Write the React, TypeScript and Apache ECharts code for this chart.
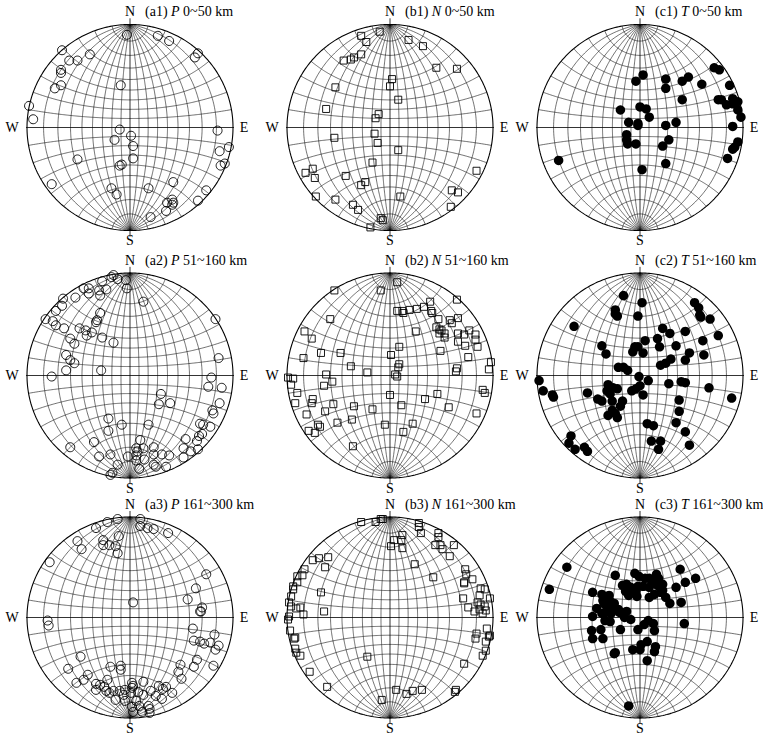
import React, { useEffect, useRef } from "react";
import * as echarts from "echarts";

// Projected positions on the Wulff net, in percent of the net radius (x east, y north)
const a1P = [[-3,90],[27,89],[38,84],[-66,75],[-39,71],[-59,65],[-51,65],[66,72],[63,68],[-67,56],[-67,53],[-73,38],[-67,41],[-9,41],[-98,21],[-94,8],[-10,-2],[85,-3],[1,-8],[-15,-12],[3,-18],[96,-19],[87,-23],[3,-30],[-51,-31],[-8,-36],[-10,-37],[92,-35],[88,-37],[-76,-55],[-18,-59],[-13,-65],[18,-59],[42,-53],[74,-61],[66,-71],[41,-70],[42,-73],[36,-73],[35,-81],[41,-75],[20,-87]];
const b1N = [[-10,93],[-28,89],[-23,83],[18,85],[32,79],[-28,71],[-35,68],[-38,66],[-45,65],[45,58],[65,57],[2,47],[0,40],[-53,39],[8,27],[-62,18],[-11,13],[-14,9],[-54,-10],[-15,-6],[-12,-15],[8,-22],[-17,-34],[84,-42],[-82,-44],[-75,-40],[-73,-49],[-43,-47],[-24,-53],[-28,-56],[-72,-67],[-53,-70],[10,-67],[60,-61],[66,-63],[59,-77],[-36,-75],[-31,-80],[-9,-88],[-7,-90],[-19,-97]];
const c1T = [[3,51],[-4,45],[25,47],[25,38],[41,45],[47,49],[60,42],[72,58],[77,56],[87,41],[41,27],[76,27],[79,27],[84,22],[90,28],[95,25],[90,23],[95,17],[98,10],[-19,17],[0,20],[6,18],[9,10],[-11,5],[-2,4],[-2,2],[35,5],[25,2],[90,1],[-13,-7],[-13,-12],[-12,-16],[-4,-16],[28,-12],[22,-18],[95,-14],[92,-19],[90,-21],[85,-30],[-79,-32],[25,-35],[2,-41]];
const a2P = [[-16,98],[-18,96],[-12,94],[-27,92],[-4,93],[-3,85],[-45,85],[-40,85],[-40,80],[-23,84],[-30,83],[-29,78],[-53,76],[-65,75],[-66,68],[-72,63],[13,72],[-29,61],[-82,55],[-75,53],[-72,49],[-64,46],[-32,54],[-33,52],[-49,46],[-43,44],[-37,42],[-42,39],[-27,37],[-16,32],[-58,36],[-54,31],[83,55],[-62,20],[-58,15],[-54,12],[-62,5],[-76,-1],[-28,5],[86,17],[79,-2],[76,-11],[89,-12],[30,-18],[28,-28],[39,-27],[87,-27],[80,-34],[81,-37],[-21,-42],[-8,-48],[18,-48],[-21,-54],[68,-47],[71,-48],[78,-50],[70,-57],[67,-59],[65,-64],[54,-62],[-35,-65],[10,-63],[6,-71],[13,-71],[23,-70],[-58,-70],[7,-74],[52,-71],[59,-74],[66,-72],[-2,-79],[6,-78],[23,-77],[31,-77],[38,-78],[-30,-79],[-19,-77],[6,-83],[14,-82],[52,-80],[23,-87],[35,-89],[-12,-87],[9,-91],[-17,-95],[-19,-97],[25,-89]];
const b2N = [[7,91],[-54,83],[-9,83],[65,74],[39,72],[7,63],[12,63],[13,61],[19,64],[26,65],[33,67],[40,63],[41,61],[47,55],[58,54],[60,51],[66,56],[45,47],[48,45],[50,44],[53,41],[48,41],[53,37],[66,41],[72,40],[77,44],[83,40],[83,35],[85,28],[73,29],[66,33],[49,24],[76,18],[-58,55],[-83,43],[-76,36],[25,43],[9,28],[1,20],[-67,22],[-48,22],[-84,17],[-38,9],[-22,3],[9,11],[8,8],[5,1],[7,-1],[-62,1],[-99,-2],[-94,-3],[-96,-9],[-56,-6],[-64,-10],[65,7],[64,4],[98,13],[96,6],[-90,-17],[0,-19],[46,-18],[34,-23],[90,-14],[92,-17],[-92,-27],[-75,-23],[-76,-27],[-55,-28],[-35,-30],[11,-29],[-81,-38],[-63,-35],[-17,-33],[57,-31],[84,-37],[-37,-43],[-51,-46],[-5,-48],[22,-47],[-70,-48],[-68,-50],[-79,-54],[-73,-56],[13,-55],[-36,-69]];
const c2T = [[-16,78],[2,71],[53,71],[57,66],[-24,64],[-24,60],[-22,58],[58,59],[59,57],[68,55],[-2,58],[-64,48],[22,46],[29,41],[44,43],[76,39],[17,36],[5,34],[61,34],[-37,29],[19,28],[35,29],[-5,28],[-2,28],[-7,23],[3,22],[-33,21],[48,22],[44,15],[62,20],[30,16],[25,12],[20,10],[-21,8],[-16,8],[-12,5],[-1,-1],[8,-5],[28,-8],[40,-6],[44,-7],[-98,-5],[-94,-15],[-85,-19],[-84,-21],[-31,-9],[-26,-12],[-22,-13],[-32,-15],[-29,-18],[0,-10],[-4,-13],[-8,-15],[3,-19],[67,-12],[-51,-17],[-41,-23],[-37,-25],[-27,-25],[-17,-25],[-19,-30],[38,-24],[89,-22],[38,-35],[-27,-34],[-24,-37],[-31,-39],[-22,-41],[35,-46],[7,-47],[13,-49],[44,-55],[-67,-59],[-69,-66],[-63,-72],[-54,-70],[-51,-74],[11,-64],[20,-64],[18,-72],[48,-68]];
const a3P = [[-12,98],[-22,95],[-33,89],[10,98],[10,91],[17,89],[23,88],[37,84],[-11,81],[-51,76],[-47,68],[-26,77],[-26,72],[-20,72],[-14,71],[-12,64],[-78,55],[74,43],[64,29],[56,18],[3,15],[70,10],[69,6],[68,6],[-80,-3],[-79,-8],[61,-11],[82,-17],[62,-23],[68,-24],[72,-26],[78,-25],[86,-28],[83,-32],[-48,-39],[65,-42],[62,-49],[81,-48],[-60,-51],[-19,-49],[-9,-48],[-9,-52],[49,-47],[47,-54],[50,-61],[-41,-57],[-45,-62],[-52,-65],[-22,-62],[-33,-66],[-29,-67],[-25,-69],[-33,-72],[-23,-73],[-16,-73],[-20,-75],[-10,-73],[-5,-72],[2,-65],[3,-68],[2,-70],[13,-64],[1,-75],[8,-74],[-6,-77],[-14,-82],[-5,-83],[6,-83],[13,-77],[28,-68],[35,-69],[32,-71],[20,-73],[41,-75],[25,-78],[31,-81],[2,-89],[9,-88],[19,-91],[3,-94],[12,-94],[19,-95],[18,-88]];
const b3N = [[-28,95],[-14,95],[-9,98],[-7,98],[28,94],[28,90],[30,84],[12,82],[4,77],[11,77],[1,71],[12,69],[47,84],[47,80],[44,72],[49,72],[51,68],[62,72],[58,61],[-75,57],[-69,59],[-60,60],[-63,50],[-83,48],[24,53],[-85,42],[-90,41],[-90,35],[-94,31],[-94,28],[-96,21],[42,40],[73,48],[74,43],[72,35],[72,34],[80,38],[-67,25],[88,29],[92,28],[87,22],[97,19],[71,19],[-98,15],[-96,11],[-91,9],[-87,10],[-84,3],[-64,6],[76,10],[85,15],[88,13],[87,8],[92,11],[82,6],[90,4],[93,7],[-99,-2],[-98,1],[-97,-13],[-93,-21],[-92,-20],[-92,-31],[-91,-35],[-87,-38],[84,-16],[83,-21],[94,-11],[96,-19],[97,-18],[93,-24],[93,-33],[90,-38],[-22,-39],[-78,-54],[72,-46],[-61,-69],[6,-72],[16,-76],[22,-73],[31,-72],[64,-72],[63,-74],[-8,-82]];
const c3T = [[-71,50],[-88,28],[-46,25],[-24,42],[39,48],[54,39],[44,35],[35,30],[-5,44],[-1,41],[5,39],[9,39],[16,43],[18,39],[12,35],[-17,32],[-13,33],[-9,30],[-2,31],[3,31],[9,30],[17,32],[22,33],[-14,26],[-9,25],[-4,26],[-11,22],[-3,21],[9,20],[14,23],[20,25],[22,27],[25,20],[29,14],[40,15],[-37,23],[-34,20],[-30,22],[-36,17],[-35,14],[-29,16],[-32,10],[-25,14],[-27,9],[-21,8],[-42,9],[-46,1],[-37,4],[-33,5],[-28,4],[-34,-3],[-29,-4],[-20,5],[-13,6],[-15,0],[-9,-2],[8,-3],[4,-7],[13,-6],[43,-6],[-47,-13],[-38,-12],[-19,-12],[-2,-12],[14,-13],[-46,-21],[-36,-21],[-24,-35],[-25,-36],[-7,-32],[0,-32],[1,-27],[7,-24],[15,-29],[14,-34],[7,-43],[-11,-88]];

const rowRanges = ["0~50 km", "51~160 km", "161~300 km"];
const colKinds = ["P", "N", "T"];
const colTags = ["a", "b", "c"];

// layout (pixels)
const RX = 103;
const ROW_RY = [103, 102.5, 100.5];
const COL_X = [130, 390, 640];
const ROW_Y = [127.5, 375.5, 617.5];

const DATA = [
  [a1P, b1N, c1T],
  [a2P, b2N, c2T],
  [a3P, b3N, c3T],
];

const DEG = Math.PI / 180;
function proj(lam: number, phi: number): [number, number] {
  const l = lam * DEG, p = phi * DEG;
  const x = Math.cos(p) * Math.sin(l);
  const y = Math.sin(p);
  const z = Math.cos(p) * Math.cos(l);
  return [(100 * x) / (1 + z), (100 * y) / (1 + z)];
}

function buildNet(): any[] {
  const out: any[] = [];
  for (let lam = -80; lam <= 80; lam += 10) {
    if (lam === 0) continue;
    for (let phi = -90; phi <= 90; phi += 1) out.push(proj(lam, phi));
    out.push(["-", "-"]);
  }
  for (let phi = -80; phi <= 80; phi += 10) {
    if (phi === 0) continue;
    for (let lam = -90; lam <= 90; lam += 1) out.push(proj(lam, phi));
    out.push(["-", "-"]);
  }
  return out;
}
function buildCircle(): any[] {
  const out: any[] = [];
  for (let a = 0; a <= 360; a += 1) out.push([100 * Math.cos(a * DEG), 100 * Math.sin(a * DEG)]);
  return out;
}
const AXES_LINES = [[-107, 0], [107, 0], ["-", "-"], [0, -106], [0, 106]];

export default function App() {
  const ref = useRef<HTMLDivElement>(null);
  useEffect(() => {
    if (!ref.current) return;
    const chart = echarts.init(ref.current, null, { renderer: "svg" });
    const net = buildNet();
    const circ = buildCircle();
    const grids: any[] = [];
    const xAxes: any[] = [];
    const yAxes: any[] = [];
    const series: any[] = [];
    const graphic: any[] = [];
    const font = '"Liberation Serif", "Times New Roman", serif';
    let idx = 0;
    for (let r = 0; r < 3; r++) {
      const RY = ROW_RY[r];
      for (let c = 0; c < 3; c++) {
        const cx = COL_X[c], cy = ROW_Y[r];
        grids.push({ left: cx - RX, top: cy - RY, width: 2 * RX, height: 2 * RY, containLabel: false });
        xAxes.push({ type: "value", gridIndex: idx, min: -100, max: 100, show: false });
        yAxes.push({ type: "value", gridIndex: idx, min: -100, max: 100, show: false });
        const base = { xAxisIndex: idx, yAxisIndex: idx, silent: true, clip: false, symbol: "none", animation: false };
        series.push({ ...base, type: "line", data: net, lineStyle: { color: "#111", width: 0.6 }, z: 1 });
        series.push({ ...base, type: "line", data: AXES_LINES, lineStyle: { color: "#000", width: 0.8 }, z: 2 });
        series.push({ ...base, type: "line", data: circ, lineStyle: { color: "#000", width: 1.1 }, z: 2 });
        const kind = colKinds[c];
        const sym = kind === "P"
          ? { symbol: "circle", symbolSize: 9, itemStyle: { color: "rgba(255,255,255,0)", borderColor: "#000", borderWidth: 0.9, opacity: 1 } }
          : kind === "N"
          ? { symbol: "rect", symbolSize: 7, itemStyle: { color: "rgba(255,255,255,0)", borderColor: "#000", borderWidth: 0.9, opacity: 1 } }
          : { symbol: "circle", symbolSize: 9.5, itemStyle: { color: "#000", opacity: 1 } };
        series.push({ type: "scatter", xAxisIndex: idx, yAxisIndex: idx, data: DATA[r][c], silent: true, z: 5, ...sym });
        const lbl = (text: string, x: number, y: number) => ({
          type: "text", x, y, silent: true,
          style: { text, fill: "#000", fontSize: 14, fontFamily: font, align: "center", verticalAlign: "middle", textAlign: "center", textVerticalAlign: "middle" },
        });
        graphic.push(lbl("N", cx, cy - RY - 13));
        graphic.push(lbl("S", cx, cy + RY + 10));
        graphic.push(lbl("W", cx - RX - 15, cy));
        graphic.push(lbl("E", cx + RX + 11, cy));
        graphic.push({
          type: "text", x: cx + 15, y: cy - RY - 13, silent: true,
          style: {
            text: `{n|(${colTags[c]}${r + 1}) }{i|${kind}}{n| ${rowRanges[r]}}`,
            verticalAlign: "middle", textVerticalAlign: "middle",
            rich: {
              n: { fontSize: 14, fontFamily: font, fill: "#000", color: "#000" },
              i: { fontSize: 14, fontFamily: font, fontStyle: "italic", fill: "#000", color: "#000" },
            },
          },
        });
        idx++;
      }
    }
    chart.setOption({ animation: false, grid: grids, xAxis: xAxes, yAxis: yAxes, series, graphic });
    return () => chart.dispose();
  }, []);
  return <div ref={ref} style={{ position: "absolute", left: 0, top: 0, width: 763, height: 739, background: "#fff" }} />;
}
